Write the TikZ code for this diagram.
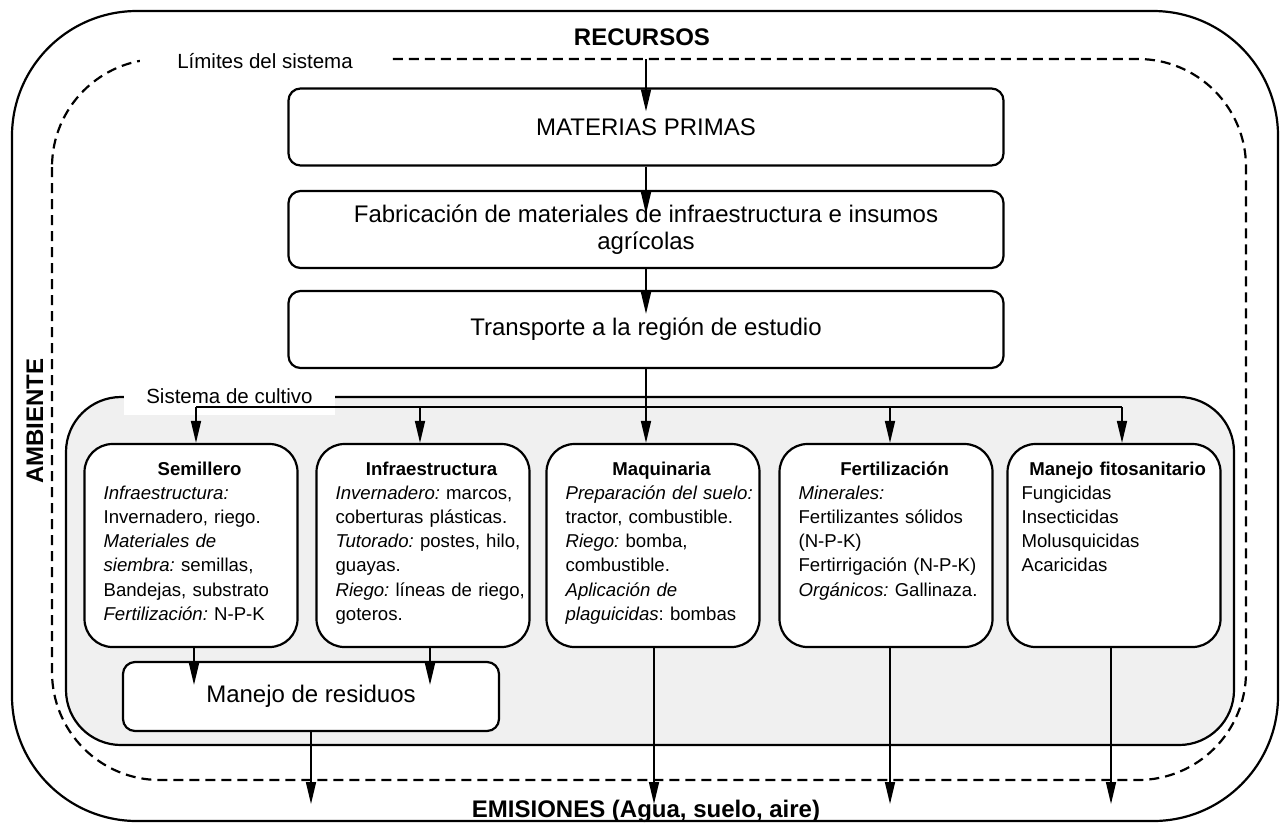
\documentclass[tikz,border=0pt]{standalone}
\usepackage{fontspec}
\setmainfont{Liberation Sans}
\usetikzlibrary{arrows.meta}
\setlength{\parindent}{0pt}
\frenchspacing
\newcommand{\stagetitle}[1]{{\centering\rule{0pt}{15pt}\textbf{#1}\par}}

\begin{document}
\begin{tikzpicture}[x=1pt, y=-1pt,
  box/.style={draw, line width=2.2pt, rounded corners=12pt, fill=white, minimum width=715pt,
    minimum height=77pt, align=center, font=\fontsize{24}{27}\selectfont},
  stage/.style={draw, line width=2.2pt, rounded corners=28pt, fill=white, minimum width=213pt, minimum height=203pt},
  info/.style={anchor=north west, inner sep=0pt, text width=192pt, align=left, font=\fontsize{18.6}{24.2}\selectfont},
  arr/.style={line width=1.6pt, -{Triangle[length=22pt, width=10pt]}},
  over/.style={shorten >=-24pt},
  tag/.style={fill=white, text height=15pt, text depth=4pt, font=\fontsize{20.5}{24}\selectfont},
  big/.style={anchor=base, font=\fontsize{24}{27}\selectfont\bfseries}]
  \useasboundingbox (0, 0) rectangle (1281, 823);

  % Environment and system limits
  \draw[line width=2.2pt, rounded corners=125pt] (12, 11) rectangle (1278, 821);
  \draw[line width=2.2pt, dash pattern=on 10pt off 6pt, rounded corners=108pt] (52, 59) rectangle (1246, 780);
  \node[tag, inner xsep=37pt] (limits) at (265, 62.5) {Límites del sistema};
  \node[big] (resources) at (642, 45) {RECURSOS};
  \node[big] (emissions) at (646, 817) {EMISIONES (Agua, suelo, aire)};
  \node[big, rotate=90] (environment) at (43, 421) {AMBIENTE};
  \coordinate (lim) at (646, 59);
  \coordinate (emis) at (0, 780);

  % Crop system
  \draw[line width=2.2pt, fill=black!6, rounded corners=55pt] (66, 397) rectangle (1234, 745);
  \node[tag, inner xsep=22pt, minimum height=34pt] (cropsys) at (229.5, 397.5) {Sistema de cultivo};
  \coordinate (bus) at (646, 407);

  % Supply chain
  \node[box] (mp) at (646, 127) {MATERIAS PRIMAS};
  \node[box] (fab) at (646, 229.5) {Fabricación de materiales de infraestructura e insumos\\agrícolas};
  \node[box] (trans) at (646, 329.5) {Transporte a la región de estudio};

  % Stages
  \node[stage] (semi) at (191, 545.5) {};
  \node[stage] (infra) at (423, 545.5) {};
  \node[stage] (maq) at (653, 545.5) {};
  \node[stage] (fert) at (886, 545.5) {};
  \node[stage] (fito) at (1114, 545.5) {};
  \node[box, minimum width=376pt, minimum height=69pt] (res) at (311, 696.5) {Manejo de residuos};

  \node[info] (semi t) at ([xshift=20pt, yshift=-17pt]semi.north west) {\stagetitle{Semillero}
    \textit{Infraestructura:}\\ Invernadero, riego.\\ \textit{Materiales de}\\
    \textit{siembra:} semillas,\\ Bandejas, substrato\\ \textit{Fertilización:} N-P-K};
  \node[info] (infra t) at ([xshift=20pt, yshift=-17pt]infra.north west) {\stagetitle{Infraestructura}
    \textit{Invernadero:} marcos,\\ coberturas plásticas.\\ \textit{Tutorado:} postes, hilo,\\
    guayas.\\ \textit{Riego:} líneas de riego,\\ goteros.};
  \node[info] (maq t) at ([xshift=20pt, yshift=-17pt]maq.north west) {\stagetitle{Maquinaria}
    \textit{Preparación del suelo:}\\ tractor, combustible.\\ \textit{Riego:} bomba,\\
    combustible.\\ \textit{Aplicación de}\\ \textit{plaguicidas}: bombas};
  \node[info] (fert t) at ([xshift=20pt, yshift=-17pt]fert.north west) {\stagetitle{Fertilización}
    \textit{Minerales:}\\ Fertilizantes sólidos\\ (N-P-K)\\ Fertirrigación (N-P-K)\\
    \textit{Orgánicos:} Gallinaza.};
  \node[info] (fito t) at ([xshift=15pt, yshift=-17pt]fito.north west) {\stagetitle{Manejo fitosanitario}
    Fungicidas\\ Insecticidas\\ Molusquicidas\\ Acaricidas};

  % Flows
  \draw[arr, over] (mp.north |- lim) -- (mp.north);
  \draw[arr, over] (mp.south) -- (fab.north);
  \draw[arr, over] (fab.south) -- (trans.north);
  \draw[arr] (trans.south) -- (trans.south |- maq.north);
  \draw[line width=1.6pt] ([xshift=5pt]semi.north |- bus) -- ([xshift=8pt]fito.north |- bus);
  \draw[arr] ([xshift=5pt]semi.north |- bus) -- ([xshift=5pt]semi.north);
  \draw[arr] ([xshift=-3pt]infra.north |- bus) -- ([xshift=-3pt]infra.north);
  \draw[arr] ([xshift=4pt]fert.north |- bus) -- ([xshift=4pt]fert.north);
  \draw[arr] ([xshift=8pt]fito.north |- bus) -- ([xshift=8pt]fito.north);

  \draw[arr, over] ([xshift=3pt]semi.south) -- ([xshift=3pt]semi.south |- res.north);
  \draw[arr, over] ([xshift=7pt]infra.south) -- ([xshift=7pt]infra.south |- res.north);
  \draw[arr, over] (res.south) -- (res.south |- emis);
  \draw[arr, over] ([xshift=1pt]maq.south) -- ([xshift=1pt]maq.south |- emis);
  \draw[arr, over] ([xshift=4pt]fert.south) -- ([xshift=4pt]fert.south |- emis);
  \draw[arr, over] ([xshift=-3pt]fito.south) -- ([xshift=-3pt]fito.south |- emis);
\end{tikzpicture}
\end{document}
